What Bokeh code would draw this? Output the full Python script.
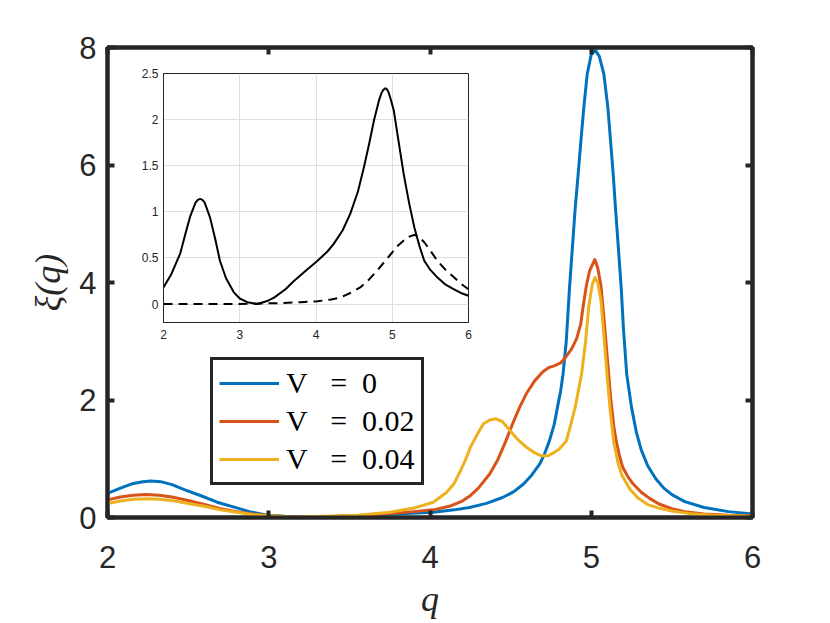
from bokeh.plotting import figure
from bokeh.models import Range1d, LinearAxis, FixedTicker, Legend, LegendItem
from bokeh.embed import file_html
from bokeh.resources import INLINE

# ---------------- data ----------------
q_v0 = [2.00, 2.08, 2.16, 2.22, 2.27, 2.33, 2.40, 2.48, 2.58, 2.68, 2.78, 2.88, 2.99, 3.10,
        3.25, 3.45, 3.65, 3.85, 4.02, 4.15, 4.245, 4.35, 4.45, 4.52, 4.58, 4.63, 4.68, 4.71,
        4.74, 4.77, 4.79, 4.81, 4.825, 4.845, 4.865, 4.886, 4.90, 4.919, 4.937, 4.954, 4.975,
        5.00, 5.026, 5.05, 5.078, 5.103, 5.12, 5.136, 5.15, 5.165, 5.186, 5.20, 5.22, 5.25,
        5.28, 5.31, 5.35, 5.40, 5.45, 5.50, 5.58, 5.70, 5.85, 6.00]
xi_v0 = [0.41, 0.50, 0.58, 0.61, 0.62, 0.61, 0.56, 0.47, 0.37, 0.26, 0.18, 0.10, 0.04, 0.02,
         0.01, 0.02, 0.04, 0.07, 0.09, 0.13, 0.17, 0.24, 0.34, 0.44, 0.57, 0.72, 0.91, 1.08,
         1.30, 1.58, 1.87, 2.15, 2.44, 3.00, 3.90, 4.71, 5.25, 5.85, 6.45, 6.98, 7.55,
         7.88, 7.95, 7.85, 7.55, 6.98, 6.40, 5.85, 5.28, 4.71, 3.90, 3.20, 2.44, 1.87,
         1.45, 1.15, 0.88, 0.66, 0.50, 0.39, 0.27, 0.17, 0.10, 0.06]

q_v2 = [2.00, 2.08, 2.16, 2.24, 2.32, 2.40, 2.50, 2.60, 2.70, 2.80, 2.90, 3.00, 3.15, 3.35,
        3.55, 3.75, 3.90, 4.02, 4.12, 4.20, 4.245, 4.30, 4.37, 4.42, 4.47, 4.51, 4.555, 4.60,
        4.65, 4.70, 4.735, 4.77, 4.81, 4.845, 4.88, 4.91, 4.935, 4.95, 4.97, 4.99, 5.022,
        5.04, 5.06, 5.08, 5.10, 5.12, 5.14, 5.155, 5.175, 5.196, 5.226, 5.26, 5.31, 5.36,
        5.42, 5.50, 5.58, 5.70, 5.85, 6.00]
xi_v2 = [0.30, 0.35, 0.38, 0.39, 0.38, 0.35, 0.29, 0.22, 0.15, 0.10, 0.06, 0.03, 0.01, 0.01,
         0.03, 0.07, 0.10, 0.13, 0.19, 0.28, 0.36, 0.50, 0.74, 0.98, 1.30, 1.58, 1.87, 2.12,
         2.33, 2.48, 2.55, 2.58, 2.63, 2.74, 2.88, 3.05, 3.30, 3.60, 3.95, 4.20, 4.39,
         4.25, 3.95, 3.35, 2.70, 2.05, 1.55, 1.30, 1.05, 0.85, 0.70, 0.57, 0.43, 0.33,
         0.23, 0.15, 0.10, 0.06, 0.04, 0.03]

q_v4 = [2.00, 2.08, 2.16, 2.24, 2.32, 2.40, 2.50, 2.60, 2.70, 2.80, 2.90, 3.00, 3.15, 3.35,
        3.55, 3.75, 3.90, 4.02, 4.10, 4.15, 4.19, 4.22, 4.25, 4.29, 4.33, 4.37, 4.41, 4.45,
        4.49, 4.54, 4.60, 4.65, 4.69, 4.73, 4.76, 4.80, 4.845, 4.87, 4.90, 4.94, 4.965, 4.985,
        5.005, 5.023, 5.04, 5.06, 5.08, 5.10, 5.12, 5.14, 5.165, 5.19, 5.24, 5.29, 5.35,
        5.42, 5.50, 5.60, 5.75, 6.00]
xi_v4 = [0.24, 0.28, 0.31, 0.32, 0.31, 0.29, 0.24, 0.19, 0.13, 0.09, 0.05, 0.03, 0.01, 0.02,
         0.04, 0.09, 0.16, 0.26, 0.42, 0.58, 0.80, 0.98, 1.19, 1.40, 1.59, 1.66, 1.68, 1.63,
         1.50, 1.34, 1.19, 1.10, 1.05, 1.05, 1.09, 1.16, 1.30, 1.55, 1.87, 2.44, 3.00, 3.60,
         3.95, 4.085, 4.00, 3.70, 3.05, 2.35, 1.75, 1.28, 0.94, 0.72, 0.48, 0.33, 0.22,
         0.16, 0.11, 0.07, 0.04, 0.02]

legend_labels = ["V\u00a0\u00a0\u00a0=\u00a0\u00a00",
                 "V\u00a0\u00a0\u00a0=\u00a0\u00a00.02",
                 "V\u00a0\u00a0\u00a0=\u00a0\u00a00.04"]
colors = ["#0072BD", "#D95319", "#EDB120"]

# inset
q_in_solid = [2.00, 2.10, 2.22, 2.30, 2.35, 2.42, 2.45, 2.48, 2.51, 2.54, 2.61, 2.68, 2.74,
              2.82, 2.92, 3.00, 3.10, 3.23, 3.35, 3.45, 3.60, 3.71, 3.85, 4.02, 4.15, 4.23,
              4.35, 4.45, 4.55, 4.63, 4.70, 4.76, 4.83, 4.86, 4.88, 4.91, 4.93, 4.95, 4.98,
              5.02, 5.08, 5.15, 5.22, 5.29, 5.36, 5.42, 5.50, 5.59, 5.70, 5.81, 5.90, 6.00]
y_in_solid = [0.18, 0.32, 0.55, 0.80, 0.95, 1.10, 1.13, 1.14, 1.13, 1.10, 0.94, 0.70, 0.47,
              0.28, 0.13, 0.06, 0.02, 0.00, 0.03, 0.07, 0.16, 0.25, 0.35, 0.47, 0.57, 0.65,
              0.80, 0.98, 1.22, 1.49, 1.75, 1.99, 2.22, 2.29, 2.32, 2.34, 2.33, 2.30, 2.22,
              2.10, 1.78, 1.41, 1.10, 0.83, 0.62, 0.47, 0.37, 0.29, 0.21, 0.16, 0.12, 0.09]
q_in_dash = [2.00, 2.50, 3.00, 3.50, 3.80, 4.02, 4.20, 4.32, 4.45, 4.58, 4.70, 4.80, 4.90,
             4.98, 5.07, 5.15, 5.22, 5.29, 5.35, 5.42, 5.50, 5.59, 5.70, 5.81, 5.90, 6.00]
y_in_dash = [0.00, 0.00, 0.00, 0.01, 0.02, 0.03, 0.05, 0.07, 0.12, 0.18, 0.27, 0.36, 0.46,
             0.54, 0.63, 0.69, 0.73, 0.75, 0.73, 0.67, 0.58, 0.47, 0.37, 0.29, 0.22, 0.16]

x_ticks = [2, 3, 4, 5, 6]
y_ticks = [0, 2, 4, 6, 8]
in_x_ticks = [2, 3, 4, 5, 6]
in_y_ticks = [0, 0.5, 1, 1.5, 2, 2.5]
in_y_labels = ["0", "0.5", "1", "1.5", "2", "2.5"]

AX = "#262626"
TICK_FONT = "Liberation Sans"
SERIF = "Liberation Serif"

# ---------------- main figure ----------------
p = figure(frame_width=645, frame_height=470,
           min_border_left=107, min_border_top=47, min_border_right=50, min_border_bottom=100,
           x_range=Range1d(2, 6), y_range=Range1d(0, 8),
           output_backend="svg", toolbar_location=None,
           background_fill_color="white", border_fill_color="white")
p.grid.visible = False
p.outline_line_color = AX
p.outline_line_width = 4

for ax in (p.xaxis[0], p.yaxis[0]):
    ax.axis_line_color = AX
    ax.axis_line_width = 4
    ax.major_tick_line_color = AX
    ax.major_tick_line_width = 4
    ax.major_tick_in = 7
    ax.major_tick_out = 0
    ax.minor_tick_line_color = None
    ax.major_label_text_font = TICK_FONT
    ax.major_label_text_font_size = "31px"
    ax.major_label_text_color = AX
    ax.axis_label_text_font = SERIF
    ax.axis_label_text_font_style = "italic"
    ax.axis_label_text_font_size = "36px"
    ax.axis_label_text_color = AX

p.xaxis[0].ticker = FixedTicker(ticks=x_ticks)
p.yaxis[0].ticker = FixedTicker(ticks=y_ticks)
p.xaxis[0].axis_label = "q"
p.yaxis[0].axis_label = "ξ(q)"
p.xaxis[0].major_label_standoff = 28
p.yaxis[0].major_label_standoff = 11
p.xaxis[0].axis_label_standoff = 8
p.yaxis[0].axis_label_standoff = 8

for side, tk in (("above", x_ticks), ("right", y_ticks)):
    a = LinearAxis(ticker=FixedTicker(ticks=tk))
    a.axis_line_color = AX
    a.axis_line_width = 4
    a.major_tick_line_color = AX
    a.major_tick_line_width = 4
    a.major_tick_in = 7
    a.major_tick_out = 0
    a.minor_tick_line_color = None
    a.major_label_overrides = {t: "" for t in tk}
    a.major_label_standoff = 0
    p.add_layout(a, side)

renderers = []
for xs, ys, c in ((q_v0, xi_v0, colors[0]), (q_v2, xi_v2, colors[1]), (q_v4, xi_v4, colors[2])):
    r = p.line(xs, ys, line_color=c, line_width=3, line_join="round")
    renderers.append(r)

legend = Legend(items=[LegendItem(label=lab, renderers=[r]) for lab, r in zip(legend_labels, renderers)],
                location=(103, 32))
legend.label_text_font = SERIF
legend.label_text_font_size = "30px"
legend.label_text_color = "black"
legend.glyph_width = 60
legend.glyph_height = 26
legend.label_height = 26
legend.label_standoff = 7
legend.spacing = 4
legend.padding = 6
legend.margin = 0
legend.border_line_color = AX
legend.border_line_width = 3
legend.border_line_alpha = 1
legend.background_fill_color = "white"
legend.background_fill_alpha = 1
p.add_layout(legend, "center")

# ---------------- inset figure ----------------
ins = figure(frame_width=305, frame_height=249,
             min_border_left=32, min_border_top=6, min_border_right=6, min_border_bottom=28,
             x_range=Range1d(2, 6), y_range=Range1d(-0.2, 2.5),
             output_backend="svg", toolbar_location=None,
             background_fill_color="white", border_fill_alpha=0)
ins.outline_line_color = AX
ins.outline_line_width = 1
ins.xgrid.ticker = FixedTicker(ticks=in_x_ticks)
ins.ygrid.ticker = FixedTicker(ticks=in_y_ticks)
ins.grid.grid_line_color = "#dedede"
ins.grid.grid_line_width = 1
for ax in (ins.xaxis[0], ins.yaxis[0]):
    ax.axis_line_color = AX
    ax.axis_line_width = 1
    ax.major_tick_line_color = AX
    ax.major_tick_in = 0
    ax.major_tick_out = 0
    ax.minor_tick_line_color = None
    ax.major_label_text_font = TICK_FONT
    ax.major_label_text_font_size = "12px"
    ax.major_label_text_color = AX
ins.xaxis[0].ticker = FixedTicker(ticks=in_x_ticks)
ins.yaxis[0].ticker = FixedTicker(ticks=in_y_ticks)
ins.yaxis[0].major_label_overrides = {t: s for t, s in zip(in_y_ticks, in_y_labels)}
ins.xaxis[0].major_label_standoff = 7
ins.yaxis[0].major_label_standoff = 5

ins.line(q_in_solid, y_in_solid, line_color="black", line_width=2, line_join="round")
ins.line(q_in_dash, y_in_dash, line_color="black", line_width=2, line_dash="9 6")

ins.styles = {"position": "absolute", "left": "131px", "top": "67px", "z-index": "5"}

open("out.html", "w").write(file_html([p, ins], INLINE))
